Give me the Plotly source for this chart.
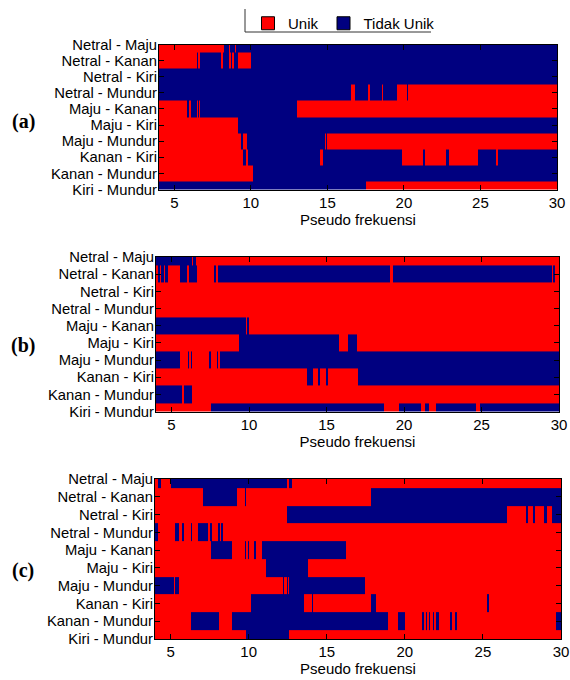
import plotly.graph_objects as go

# Electrode-pair combinations (rows, top to bottom)
pairs = ["Netral - Maju", "Netral - Kanan", "Netral - Kiri", "Netral - Mundur",
         "Maju - Kanan", "Maju - Kiri", "Maju - Mundur", "Kanan - Kiri",
         "Kanan - Mundur", "Kiri - Mundur"]

freq_min, freq_max = 4.0, 30.0
freq_ticks = [5, 10, 15, 20, 25, 30]

# State at the lowest pseudo frequency (1 = Unik, 0 = Tidak Unik)
# and the pseudo frequencies at which the state flips, per pair.
a_start = [1, 1, 0, 0, 1, 1, 1, 1, 1, 0]
a_switch = [
    [8.27, 8.55, 8.62, 8.95, 9.0],
    [6.46, 6.57, 6.67, 8.08, 8.18, 8.6, 8.68, 8.8, 8.88, 9.15, 9.99],
    [],
    [16.55, 16.8, 17.66, 17.8, 18.58, 18.65, 19.52, 20.17, 20.24],
    [5.81, 5.98, 6.12, 6.46, 6.52, 6.6, 6.68, 12.99],
    [9.18],
    [9.36, 9.47, 9.73, 14.85, 14.9, 14.97],
    [9.51, 9.68, 9.79, 14.52, 14.69, 19.85, 21.22, 21.37, 22.72, 22.94,
     24.81, 25.99, 26.16],
    [10.16],
    [17.52],
]

b_start = [0, 1, 1, 1, 0, 1, 0, 1, 0, 1]
b_switch = [
    [6.3, 6.37, 6.55],
    [4.1, 4.25, 4.35, 4.5, 4.55, 4.75, 5.55, 6.02, 6.15, 6.62, 7.76, 7.87,
     8.02, 19.1, 19.27, 29.53, 29.64, 29.74],
    [],
    [],
    [9.8, 9.87, 10.0],
    [9.37, 15.83, 16.41, 16.95],
    [5.55, 5.85, 5.9, 6.06, 6.11, 6.24, 6.3, 7.44, 7.55, 7.92, 8.02, 8.13],
    [13.76, 14.15, 14.47, 14.58, 14.97, 15.08, 17.0],
    [5.7, 5.83, 6.34],
    [7.55, 18.73, 19.7, 21.1, 21.35, 21.63, 22.06, 24.62, 24.9],
]

c_start = [1, 1, 1, 0, 1, 1, 0, 1, 1, 1]
c_switch = [
    [4.21, 4.36, 5.0, 12.44, 12.61, 12.76],
    [7.1, 9.28, 9.77, 9.83, 17.83],
    [12.44, 26.54, 27.78, 27.89, 28.21, 28.36, 28.89, 29.1, 29.42],
    [4.21, 5.28, 5.56, 5.71, 5.84, 6.29, 6.39, 6.78, 7.42, 7.53, 7.63, 8.06,
     8.17, 8.23, 8.34],
    [7.57, 8.92, 9.77, 9.85, 9.98, 10.05, 10.37, 10.45, 10.84, 16.24],
    [11.12, 13.79],
    [5.22, 5.28, 5.56, 12.19, 12.29, 12.44, 12.5, 12.6, 17.46],
    [10.13, 13.51, 14.04, 14.12, 17.83, 18.15, 25.26, 25.37],
    [6.29, 8.08, 8.92, 18.9, 19.56, 19.98, 21.09, 21.2, 21.37, 21.45, 21.54,
     21.62, 21.78, 21.85, 22.0, 22.18, 22.9, 23.02, 23.18, 23.32, 29.71],
    [9.8, 12.59],
]

panel_labels = ["(a)", "(b)", "(c)"]

RED = "#FF0000"
BLUE = "#000080"
FONT = "Liberation Sans, Arial, sans-serif"


def state_grid(start, switch):
    """Brick edges along frequency and the 0/1 state of every brick."""
    edges = sorted(set([freq_min, freq_max] + [s for row in switch for s in row]))
    z = []
    for st, sw in zip(start, switch):
        row = []
        for lo, hi in zip(edges[:-1], edges[1:]):
            mid = 0.5 * (lo + hi)
            flips = sum(1 for s in sw if s < mid)
            row.append((st + flips) % 2)
        z.append(row)
    return edges, z


# Panel placement in pixels: (left, right, top, bottom), label height
W, H = 570, 680
boxes = [(159, 557, 44.5, 189.5), (156, 559, 257, 411.5), (155, 561, 479, 639)]
label_y = [121, 345, 570]

fig = go.Figure()
row_edges = [i - 0.5 for i in range(len(pairs) + 1)]

for k, (start, switch) in enumerate([(a_start, a_switch), (b_start, b_switch),
                                     (c_start, c_switch)]):
    edges, z = state_grid(start, switch)
    xa = "x" if k == 0 else f"x{k + 1}"
    ya = "y" if k == 0 else f"y{k + 1}"
    fig.add_trace(go.Heatmap(
        x=edges, y=row_edges, z=z, xaxis=xa, yaxis=ya,
        zmin=0, zmax=1, showscale=False, zsmooth=False, hoverinfo="skip",
        colorscale=[[0, BLUE], [0.5, BLUE], [0.5, RED], [1, RED]],
    ))
    l, r, t, b = boxes[k]
    key = "" if k == 0 else str(k + 1)
    fig.layout["xaxis" + key] = dict(
        domain=[l / W, r / W], anchor=ya, range=[freq_min, freq_max],
        automargin=False,
        tickmode="array", tickvals=freq_ticks, ticks="inside", ticklen=5,
        tickcolor="black", mirror="ticks", showline=True, linecolor="black",
        linewidth=1, showgrid=False, zeroline=False, ticklabelstandoff=-1,
        tickfont=dict(family=FONT, size=15, color="black"),
        title=dict(text="Pseudo frekuensi", standoff=3,
                   font=dict(family=FONT, size=15, color="black")),
    )
    fig.layout["yaxis" + key] = dict(
        domain=[1 - b / H, 1 - t / H], anchor=xa, range=[len(pairs) - 1, 0],
        automargin=False,
        tickmode="array", tickvals=list(range(len(pairs))), ticktext=pairs,
        ticks="inside", ticklen=5, tickcolor="black", mirror="ticks",
        showline=True, linecolor="black", linewidth=1, showgrid=False,
        zeroline=False, ticklabelstandoff=-2,
        tickfont=dict(family=FONT, size=14.8, color="black"),
    )
    fig.add_annotation(
        text="<b>" + panel_labels[k] + "</b>", xref="paper", yref="paper",
        x=23 / W, y=1 - label_y[k] / H, showarrow=False,
        xanchor="center", yanchor="middle",
        font=dict(family="Liberation Serif, Times New Roman, serif", size=20,
                  color="black"),
    )

# Legend entries
for name, col in [("Unik", RED), ("Tidak Unik", BLUE)]:
    fig.add_trace(go.Scatter(
        x=[None], y=[None], mode="markers", name=name,
        marker=dict(symbol="square", size=13, color=col,
                    line=dict(color="black", width=1)),
    ))

fig.update_layout(
    width=W, height=H, margin=dict(l=0, r=0, t=0, b=0, pad=0),
    paper_bgcolor="white", plot_bgcolor="white",
    showlegend=True,
    legend=dict(orientation="h", x=248 / W, y=1 - 7 / H, xanchor="left",
                yanchor="top", bgcolor="rgba(0,0,0,0)", borderwidth=0,
                font=dict(family=FONT, size=15, color="black"),
                itemclick=False, itemdoubleclick=False),
    shapes=[
        dict(type="line", xref="paper", yref="paper", x0=245 / W, x1=245 / W,
             y0=1 - 9 / H, y1=1 - 32 / H, line=dict(color="#333333", width=1)),
        dict(type="line", xref="paper", yref="paper", x0=245 / W, x1=431 / W,
             y0=1 - 32 / H, y1=1 - 32 / H, line=dict(color="#333333", width=1)),
    ],
)

fig.write_html("out.html")
